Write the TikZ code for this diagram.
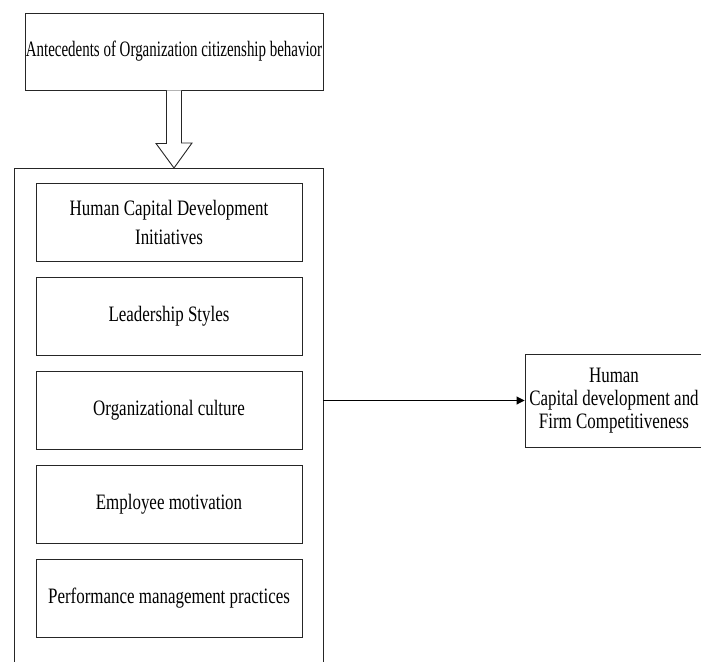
\documentclass[tikz,border=0pt]{standalone}
\usepackage{fontspec}
\setmainfont[FakeStretch=0.77]{Liberation Serif}
\newfontfamily\narrowserif[FakeStretch=0.68]{Liberation Serif}
\usetikzlibrary{positioning,arrows.meta,calc}

\begin{document}
\begin{tikzpicture}[x=1pt, y=-1pt,
        every node/.style={font=\fontsize{22}{29}\selectfont},
        box/.style={draw=black!85, line width=0.9pt, minimum width=266pt,
            minimum height=78pt, inner sep=0pt, align=center},
        hollow/.style={draw=black!85, line width=0.9pt, fill=white},
        node distance=15.25pt]
        % Rahmen
        \clip (0,0) rectangle (701,661);
        \fill[white] (0,0) rectangle (701,661);

        % oben
        \node[box, minimum width=298pt, minimum height=77pt,
            font=\fontsize{22}{25}\narrowserif] (ante) at (174,51.5)
            {Antecedents of Organization citizenship behavior};

        % Gruppe (unten offen)
        \node[draw=black!85, line width=0.9pt, minimum width=309pt,
            minimum height=520pt, anchor=north] (group) at (168.5,168) {};

        \node[box] (hcd) at (169,222) {Human Capital Development\\Initiatives};
        \node[box, below=of hcd] (lead) {Leadership Styles};
        \node[box, below=of lead] (cult) {Organizational culture};
        \node[box, below=of cult] (moti) {Employee motivation};
        \node[box, below=of moti] (perf) {Performance management practices};

        % rechts
        \node[box, minimum width=178pt, minimum height=93pt,
            font=\fontsize{22}{23}\selectfont] (hcfc) at (614,400.5)
            {Human\\Capital development and\\Firm Competitiveness};

        % Pfeile
        \coordinate (tip) at (ante.south |- group.north);
        \draw[hollow] ($(ante.south)+(-7.5,0)$) -- ++(0,53) -- ++(-10.5,0)
            -- (tip) -- ++(18,-25) -- ++(-10.5,0) -- ($(ante.south)+(7.5,0)$);
        \draw[-{Triangle[length=8pt,width=8pt]}, line width=0.9pt]
            (group.east |- hcfc.west) -- (hcfc.west);
    \end{tikzpicture}
\end{document}
